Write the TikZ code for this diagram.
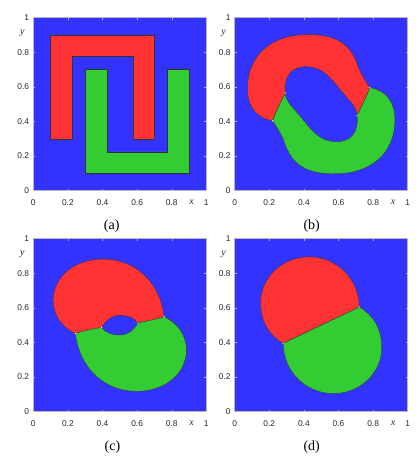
\documentclass[tikz,border=0pt]{standalone}
\usepackage{fontspec}
\setmainfont{Liberation Serif}
\newfontfamily\ticksf{Liberation Sans}
\definecolor{mblue}{RGB}{51,51,255}
\definecolor{mred}{RGB}{255,51,51}
\definecolor{mgreen}{RGB}{51,204,51}
\tikzset{
  region/.style={draw=black!80, line width=0.35pt, line join=round},
  redreg/.style={region, fill=mred},
  greenreg/.style={region, fill=mgreen, rotate around={180:(0.5,0.5)}},
  ticklab/.style={font=\ticksf\fontsize{8.4}{9}\selectfont, text=black!85, inner sep=0pt},
  axlab/.style={font=\fontsize{10}{11}\selectfont\itshape, text=black!85, inner sep=0pt},
  caption/.style={font=\fontsize{14}{16}\selectfont, inner sep=0pt},
  frame/.style={draw=gray!55, line width=0.5pt},
  tickmark/.style={draw=gray!60, line width=0.4pt},
  junction/.style={circle, fill=white!85!gray, inner sep=0pt, minimum size=1.4pt}
}
\newcommand\panelbg{\fill[mblue] (0,0) rectangle (1,1);}
\newcommand\panelaxes[1]{%
  \foreach \t in {0.2,0.4,0.6,0.8}{
    \draw[tickmark] (\t,0) -- ++(0,2pt);
    \draw[tickmark] (\t,1) -- ++(0,-2pt);
    \draw[tickmark] (0,\t) -- ++(2pt,0);
    \draw[tickmark] (1,\t) -- ++(-2pt,0);
  }
  \draw[frame] (0,0) rectangle (1,1);
  \foreach \t/\n in {0/0,0.2/2,0.4/4,0.6/6,0.8/8}{
    \node[ticklab, yshift=-11.5pt] (#1-xt\n) at (\t,0) {\t};
    \node[ticklab, anchor=east, xshift=-4pt] (#1-yt\n) at (0,\t) {\t};
  }
  \node[ticklab, yshift=-11.5pt] (#1-xt10) at (1,0) {1};
  \node[ticklab, anchor=east, xshift=-4pt] (#1-yt10) at (0,1) {1};
  \node[axlab, yshift=-11.5pt] (#1-xlab) at (0.915,0) {x};
  \node[axlab, xshift=-11pt] (#1-ylab) at (0,0.91) {y};
}
% region outlines (red); green is the same outline turned by 180 degrees
\newcommand\shapeA{(0.1,0.3) -- (0.1,0.9) -- (0.7,0.9) -- (0.7,0.3) -- (0.575,0.3) -- (0.575,0.775) -- (0.225,0.775) -- (0.225,0.3) -- cycle}
\newcommand\shapeB{(0.219,0.404) .. controls (0.13,0.42) and (0.074,0.48) .. (0.074,0.59)
  .. controls (0.074,0.79) and (0.22,0.903) .. (0.42,0.902)
  .. controls (0.61,0.905) and (0.68,0.83) .. (0.72,0.70)
  .. controls (0.745,0.65) and (0.765,0.62) .. (0.781,0.596)
  .. controls (0.765,0.55) and (0.74,0.50) .. (0.707,0.435)
  .. controls (0.707,0.48) and (0.665,0.52) .. (0.625,0.565)
  .. controls (0.57,0.63) and (0.52,0.717) .. (0.41,0.717)
  .. controls (0.33,0.717) and (0.28,0.66) .. (0.293,0.565)
  .. controls (0.26,0.50) and (0.235,0.45) .. cycle}
\newcommand\shapeC{(0.243,0.452) .. controls (0.14,0.50) and (0.10,0.60) .. (0.12,0.69)
  .. controls (0.15,0.82) and (0.28,0.885) .. (0.41,0.882)
  .. controls (0.58,0.88) and (0.73,0.76) .. (0.757,0.548)
  .. controls (0.70,0.53) and (0.65,0.52) .. (0.605,0.513)
  .. controls (0.58,0.545) and (0.545,0.557) .. (0.5,0.557)
  .. controls (0.455,0.557) and (0.42,0.53) .. (0.395,0.487)
  .. controls (0.34,0.475) and (0.29,0.465) .. cycle}
\newcommand\shapeD{(0.72,0.605) .. controls (0.72,0.765) and (0.59,0.895) .. (0.43,0.895)
  .. controls (0.275,0.895) and (0.15,0.776) .. (0.15,0.63)
  .. controls (0.15,0.52) and (0.20,0.44) .. (0.28,0.395) -- cycle}
\begin{document}
\begin{tikzpicture}
\useasboundingbox (0pt,0pt) rectangle (419pt,461pt);
% (a)
\begin{scope}[shift={(33.3pt,270.3pt)}, x=173pt, y=173pt]
  \panelbg
  \draw[redreg] \shapeA;
  \draw[greenreg] \shapeA;
  \panelaxes{a}
\end{scope}
% (b)
\begin{scope}[shift={(234.7pt,270.3pt)}, x=173pt, y=173pt]
  \panelbg
  \draw[redreg] \shapeB;
  \draw[greenreg] \shapeB;
  \node[junction] (b-j1) at (0.219,0.404) {};
  \node[junction] (b-j2) at (0.781,0.596) {};
  \node[junction] (b-j3) at (0.707,0.435) {};
  \node[junction] (b-j4) at (0.293,0.565) {};
  \panelaxes{b}
\end{scope}
% (c)
\begin{scope}[shift={(33.3pt,49.3pt)}, x=173pt, y=173pt]
  \panelbg
  \draw[redreg] \shapeC;
  \draw[greenreg] \shapeC;
  \node[junction] (c-j1) at (0.243,0.452) {};
  \node[junction] (c-j2) at (0.757,0.548) {};
  \node[junction] (c-j3) at (0.395,0.487) {};
  \node[junction] (c-j4) at (0.605,0.513) {};
  \panelaxes{c}
\end{scope}
% (d)
\begin{scope}[shift={(234.7pt,49.3pt)}, x=173pt, y=173pt]
  \panelbg
  \draw[redreg] \shapeD;
  \draw[greenreg] \shapeD;
  \node[junction] (d-j1) at (0.28,0.395) {};
  \node[junction] (d-j2) at (0.72,0.605) {};
  \panelaxes{d}
\end{scope}
\node[caption] (capa) at (111.7pt,235.3pt) {(a)};
\node[caption] (capb) at (311.7pt,235.3pt) {(b)};
\node[caption] (capc) at (112.5pt,14.3pt) {(c)};
\node[caption] (capd) at (311.7pt,14.3pt) {(d)};
\end{tikzpicture}
\end{document}
